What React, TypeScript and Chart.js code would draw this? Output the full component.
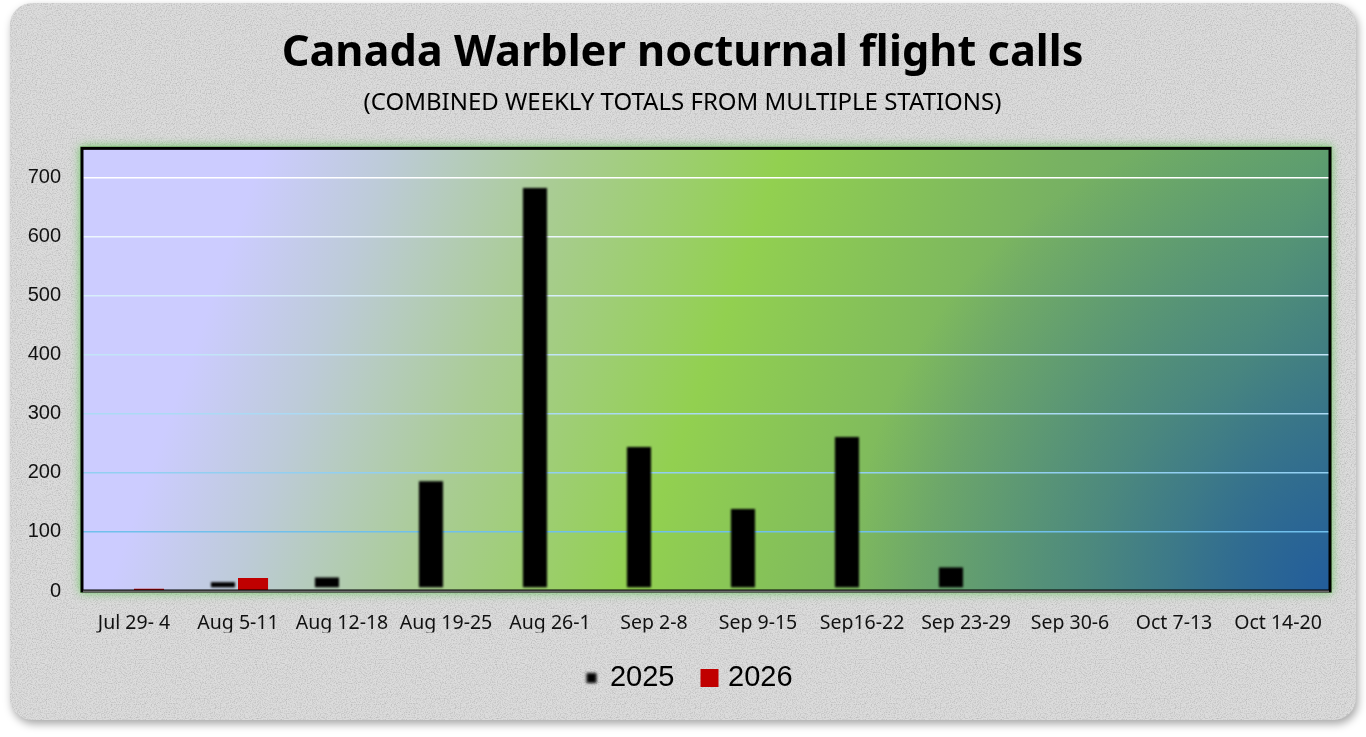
import React, { useEffect, useRef } from "react";
import { Chart, registerables } from "chart.js";

Chart.register(...registerables);

// ---- data ----
const categories = [
  "Jul 29- 4",
  "Aug 5-11",
  "Aug 12-18",
  "Aug 19-25",
  "Aug 26-1",
  "Sep 2-8",
  "Sep 9-15",
  "Sep16-22",
  "Sep 23-29",
  "Sep 30-6",
  "Oct 7-13",
  "Oct 14-20",
];
const calls2025 = [0, 20, 28, 191, 688, 249, 144, 266, 45, 0, 0, 0];
const calls2026 = [4, 22, null, null, null, null, null, null, null, null, null, null];
const seriesNames = ["2025", "2026"];
const seriesColors = ["#000000", "#c00000"];
const yTickValues = [0, 100, 200, 300, 400, 500, 600, 700];
const yMax = 750;

const W = 1346;
const H = 717;

function gridColor(v: number | undefined): string {
  if (!v) return "rgba(0,0,0,0)";
  const t = (v - 100) / 600; // 0 at 100, 1 at 700
  const lo = [112, 192, 236];
  const hi = [255, 255, 255];
  const c = lo.map((l, i) => Math.round(l + (hi[i] - l) * Math.pow(t, 0.8)));
  return `rgb(${c[0]},${c[1]},${c[2]})`;
}

function makeMarker(color: string, size: number, blur: number): HTMLCanvasElement {
  const c = document.createElement("canvas");
  c.width = 20;
  c.height = 20;
  const x = c.getContext("2d")!;
  if (blur > 0) x.filter = `blur(${blur}px)`;
  x.fillStyle = color;
  x.fillRect((20 - size) / 2, (20 - size) / 2, size, size);
  return c;
}

const backgroundPlugin = {
  id: "plotBackground",
  beforeDraw(chart: any) {
    const { ctx, chartArea: a } = chart;
    ctx.save();
    // green glow around plot area
    ctx.shadowColor = "rgba(110,200,100,0.95)";
    ctx.shadowBlur = 9;
    ctx.fillStyle = "#8ccc7e";
    ctx.fillRect(a.left - 2, a.top - 2, a.width + 4, a.height + 4);
    ctx.shadowBlur = 0;
    ctx.shadowColor = "rgba(0,0,0,0)";
    const g = ctx.createLinearGradient(a.left, a.top, a.right, a.bottom);
    g.addColorStop(0, "#ccccff");
    g.addColorStop(0.13, "#ccccff");
    g.addColorStop(0.22, "#bdcbd8");
    g.addColorStop(0.34, "#aacc96");
    g.addColorStop(0.5, "#92d050");
    g.addColorStop(0.7, "#78b262");
    g.addColorStop(0.88, "#64a46a");
    g.addColorStop(1, "#4a8a72");
    ctx.fillStyle = g;
    ctx.fillRect(a.left, a.top, a.width, a.height);
    const r = ctx.createRadialGradient(a.right, a.bottom, 0, a.right, a.bottom, 480);
    r.addColorStop(0, "rgba(30,88,160,0.9)");
    r.addColorStop(0.5, "rgba(30,88,160,0.4)");
    r.addColorStop(1, "rgba(30,88,160,0)");
    ctx.fillStyle = r;
    ctx.fillRect(a.left, a.top, a.width, a.height);
    ctx.restore();
  },
  beforeDatasetDraw(chart: any, args: any) {
    chart.ctx.save();
    if (args.index === 0) chart.ctx.filter = "blur(1.3px)";
  },
  afterDatasetDraw(chart: any) {
    chart.ctx.restore();
  },
  afterLayout(chart: any) {
    if (chart.legend) {
      chart.legend.left += 20;
      chart.legend.right += 20;
    }
    const boxes = chart.boxes || [];
    boxes.forEach((b: any) => {
      if (b.options && (b === chart.titleBlock || b.constructor?.name === "Title" || b.options.text === "(COMBINED WEEKLY TOTALS FROM MULTIPLE STATIONS)" || b.options.text === "Canada Warbler nocturnal flight calls")) {
        b.left += 12.5;
        b.right += 12.5;
      }
    });
  },
  afterDraw(chart: any) {
    const { ctx, chartArea: a } = chart;
    ctx.save();
    ctx.strokeStyle = "#000";
    ctx.lineWidth = 3;
    ctx.strokeRect(a.left, a.top, a.width, a.height);
    ctx.strokeStyle = "#6a6a6a";
    ctx.lineWidth = 2;
    ctx.beginPath();
    ctx.moveTo(a.left + 1, a.bottom + 0.5);
    ctx.lineTo(a.right - 1, a.bottom + 0.5);
    ctx.stroke();
    ctx.restore();
  },
};

const noiseSvg =
  "data:image/svg+xml;utf8," +
  encodeURIComponent(
    "<svg xmlns='http://www.w3.org/2000/svg' width='240' height='240'><filter id='n'><feTurbulence type='fractalNoise' baseFrequency='0.8' numOctaves='2' stitchTiles='stitch'/><feColorMatrix values='0 0 0 0 0.45 0 0 0 0 0.45 0 0 0 0 0.45 1.8 0 0 0 -0.75'/></filter><rect width='100%' height='100%' filter='url(#n)'/></svg>"
  );

export default function App() {
  const ref = useRef<HTMLCanvasElement | null>(null);

  useEffect(() => {
    const canvas = ref.current;
    if (!canvas) return;
    const markers = [makeMarker(seriesColors[0], 10, 1.6), makeMarker(seriesColors[1], 18, 0)];
    const chart = new Chart(canvas, {
      type: "bar",
      data: {
        labels: categories,
        datasets: [
          {
            label: seriesNames[0],
            data: calls2025,
            backgroundColor: seriesColors[0],
            borderColor: "rgba(0,0,0,0)",
            borderWidth: 3,
            borderSkipped: false,
            borderRadius: 2,
            categoryPercentage: 0.578,
            barPercentage: 1,
          },
          {
            label: seriesNames[1],
            data: calls2026 as any,
            backgroundColor: seriesColors[1],
            borderWidth: 0,
            categoryPercentage: 0.578,
            barPercentage: 1,
          },
        ],
      },
      options: {
        responsive: false,
        animation: false,
        devicePixelRatio: 1,
        layout: { padding: { left: 0, right: 26, top: 0, bottom: 17.5 } },
        plugins: {
          title: {
            display: true,
            text: "Canada Warbler nocturnal flight calls",
            color: "#000",
            font: { family: "Noto Sans", size: 43.3, weight: "bold", lineHeight: 1.2 },
            padding: { top: 25, bottom: 0 },
          },
          subtitle: {
            display: true,
            text: "(COMBINED WEEKLY TOTALS FROM MULTIPLE STATIONS)",
            color: "#000",
            font: { family: "Noto Sans", size: 24, lineHeight: 1.2 },
            padding: { top: 8.5, bottom: 31.1 },
          },
          legend: {
            display: true,
            position: "bottom",
            labels: {
              usePointStyle: true,
              boxWidth: 8,
              boxHeight: 8,
              padding: 31,
              color: "#000",
              font: { family: "Liberation Sans", size: 29 },
              generateLabels: () =>
                seriesNames.map((name, i) => ({
                  text: name,
                  fillStyle: seriesColors[i],
                  strokeStyle: "rgba(0,0,0,0)",
                  lineWidth: 0,
                  pointStyle: markers[i] as any,
                  hidden: false,
                  datasetIndex: i,
                  fontColor: "#000",
                })),
            },
          },
          tooltip: { enabled: false },
        },
        scales: {
          x: {
            grid: { display: false, drawTicks: false },
            border: { display: false },
            ticks: {
              color: "#111",
              font: { family: "Noto Sans", size: 19.5 },
              padding: 21,
              maxRotation: 0,
              autoSkip: false,
            },
            afterFit: (s: any) => {
              s.height = 41.5;
            },
          },
          y: {
            min: 0,
            max: yMax,
            afterBuildTicks: (s: any) => {
              s.ticks = yTickValues.map((v) => ({ value: v }));
            },
            grid: {
              color: (c: any) => gridColor(c.tick ? c.tick.value : 0),
              lineWidth: 1.5,
              drawTicks: false,
            },
            border: { display: false },
            ticks: {
              color: "#111",
              font: { family: "Liberation Sans", size: 20 },
              padding: 21,
            },
            afterFit: (s: any) => {
              s.width = 72;
            },
          },
        },
      },
      plugins: [backgroundPlugin as any],
    });
    return () => chart.destroy();
  }, []);

  return (
    <div
      style={{
        position: "absolute",
        left: 10,
        top: 3,
        width: W,
        height: H,
        borderRadius: 22,
        backgroundColor: "#dcdcdc",
        backgroundImage: `url("${noiseSvg}")`,
        boxShadow: "2px 4px 8px rgba(0,0,0,0.35)",
        overflow: "hidden",
      }}
    >
      <canvas ref={ref} width={W} height={H} style={{ position: "absolute", left: 0, top: 0, width: W, height: H }} />
    </div>
  );
}
